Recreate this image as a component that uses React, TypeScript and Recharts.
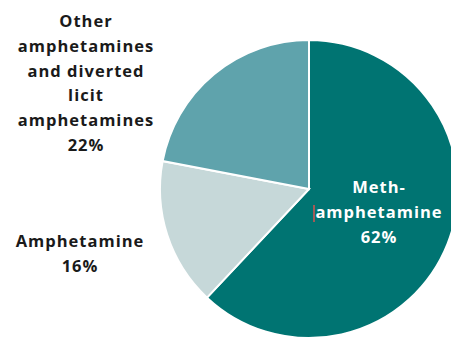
import { PieChart, Pie, Cell } from 'recharts';

const categories = ['Methamphetamine', 'Amphetamine', 'Other amphetamines and diverted licit amphetamines'];
const shares = [62, 16, 22];
const colors = ['#007472', '#c6d8d9', '#5fa3ac'];

// label lines per slice, drawn at fixed spots like the original figure
const labelLines = [
  ['Meth-', 'amphetamine', '62%'],
  ['Amphetamine', '16%'],
  ['Other', 'amphetamines', 'and diverted', 'licit', 'amphetamines', '22%'],
];
const labelSpots = [
  { x: 379, y: 189, fill: '#ffffff' },
  { x: 80, y: 243, fill: '#1a1a1a' },
  { x: 86, y: 23, fill: '#1a1a1a' },
];

const data = categories.map((name, i) => ({ name, value: shares[i] }));

const LINE_H = 24.8;

function renderLabel(props: any) {
  const i = props.index;
  const spot = labelSpots[i];
  return (
    <g key={`lbl-${i}`}>
      <text
        x={spot.x}
        y={spot.y}
        textAnchor="middle"
        dominantBaseline="middle"
        fill={spot.fill}
        fontFamily="'Open Sans', sans-serif"
        fontWeight={700}
        fontSize={16.5}
        letterSpacing={1}
      >
        {labelLines[i].map((line, j) => (
          <tspan key={j} x={spot.x} y={spot.y + j * LINE_H}>
            {line}
          </tspan>
        ))}
      </text>
      {i === 0 && (
        <line x1={314} y1={205} x2={314} y2={222} stroke="#d9534f" strokeWidth={1.5} />
      )}
    </g>
  );
}

export default function App() {
  return (
    <div style={{ position: 'absolute', left: 0, top: 0, width: 451, height: 338, background: '#fff' }}>
      <PieChart width={451} height={338} margin={{ top: 0, right: 0, bottom: 0, left: 0 }}>
        <Pie
          data={data}
          dataKey="value"
          nameKey="name"
          cx={309}
          cy={189}
          outerRadius={149}
          startAngle={90}
          endAngle={-270}
          stroke="#ffffff"
          strokeWidth={2}
          labelLine={false}
          label={renderLabel}
          isAnimationActive={false}
        >
          {data.map((entry, index) => (
            <Cell key={`cell-${index}`} fill={colors[index]} />
          ))}
        </Pie>
      </PieChart>
    </div>
  );
}
